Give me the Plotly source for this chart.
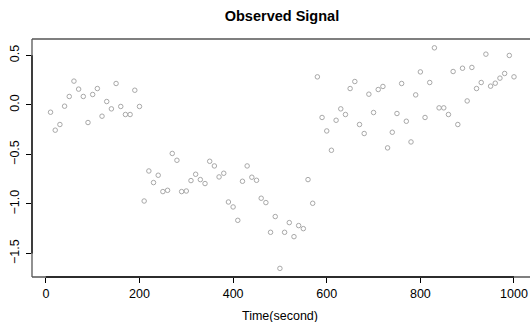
import plotly.graph_objects as go

time_s = list(range(10, 1001, 10))
signal = [
    -0.074, -0.255, -0.198, -0.013, 0.085, 0.240, 0.159, 0.085, -0.178, 0.105,
    0.165, -0.114, 0.034, -0.040, 0.216, -0.016, -0.097, -0.097, 0.148, -0.016,
    -0.970, -0.667, -0.784, -0.710, -0.875, -0.862, -0.490, -0.559, -0.875, -0.869,
    -0.764, -0.700, -0.754, -0.794, -0.569, -0.616, -0.727, -0.690, -0.980, -1.030,
    -1.165, -0.771, -0.616, -0.730, -0.761, -0.942, -0.986, -1.286, -1.127, -1.650,
    -1.286, -1.188, -1.330, -1.218, -1.249, -0.754, -0.993, 0.283, -0.127, -0.263,
    -0.458, -0.155, -0.040, -0.097, 0.165, 0.236, -0.198, -0.289, 0.108, -0.077,
    0.155, 0.186, -0.434, -0.276, -0.087, 0.216, -0.165, -0.374, 0.101, 0.333,
    -0.127, 0.226, 0.576, -0.030, -0.030, -0.097, 0.337, -0.198, 0.370, 0.040,
    0.378, 0.165, 0.226, 0.512, 0.189, 0.219, 0.270, 0.317, 0.499, 0.283,
]
x_ticks = [0, 200, 400, 600, 800, 1000]
y_ticks = [-1.5, -1.0, -0.5, 0.0, 0.5]
y_tick_labels = ["\u22121.5", "\u22121.0", "\u22120.5", "0.0", "0.5"]

FONT = "Liberation Sans, Arial, Helvetica, sans-serif"

fig = go.Figure(go.Scatter(
    x=time_s, y=signal, mode="markers",
    marker=dict(symbol="circle-open", size=4.5, color="#a8a8a8", line=dict(width=1, color="#a8a8a8")),
    hoverinfo="x+y",
))

x_range = [-29.6, 1034.2]
y_range = [-1.737, 0.665]

fig.update_layout(
    width=530, height=322,
    margin=dict(l=32, r=0, t=39, b=45, autoexpand=False),
    paper_bgcolor="white", plot_bgcolor="white",
    showlegend=False,
    font=dict(family=FONT, size=12.5, color="black"),
    title=dict(text="<b>Observed Signal</b>", x=0.532, xanchor="center", y=0.95, yanchor="middle",
               font=dict(family=FONT, size=14.5, color="black")),
    xaxis=dict(range=x_range, tickvals=x_ticks, ticks="outside", ticklen=5, tickcolor="black",
               showgrid=False, zeroline=False, showline=False,
               ticklabelstandoff=0),
    yaxis=dict(range=y_range, tickvals=y_ticks, ticktext=y_tick_labels, ticks="outside", ticklen=5,
               tickcolor="black", tickangle=-90, showgrid=False, zeroline=False, showline=False,
               ticklabelstandoff=2),
    annotations=[
        dict(text="Time(second)", xref="x", yref="paper", x=500, y=-0.164, xanchor="center",
             yanchor="middle", showarrow=False, font=dict(family=FONT, size=12.5, color="black")),
    ],
    shapes=[
        dict(type="line", xref="paper", yref="paper", x0=0, x1=0, y0=0, y1=1, line=dict(color="#555", width=1.3)),
        dict(type="line", xref="paper", yref="paper", x0=0, x1=1, y0=1, y1=1, line=dict(color="#555", width=1.3)),
        dict(type="line", xref="paper", yref="paper", x0=0, x1=1, y0=0, y1=0, line=dict(color="#555", width=1.3)),
        dict(type="line", xref="x", yref="paper", x0=x_ticks[0], x1=x_ticks[-1], y0=0, y1=0, line=dict(color="#111", width=1.3)),
        dict(type="line", xref="paper", yref="y", x0=0, x1=0, y0=y_ticks[0], y1=y_ticks[-1], line=dict(color="#111", width=1.3)),
    ],
)

fig.write_html(
    "out.html",
    config={"displayModeBar": False},
    post_script="document.body.style.margin='0px';document.body.style.padding='0px';document.body.style.overflow='hidden';",
)
